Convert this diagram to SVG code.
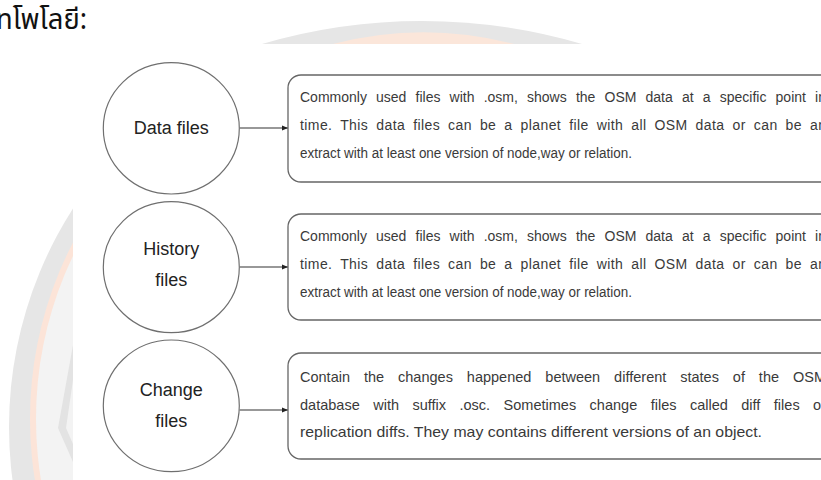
<svg xmlns="http://www.w3.org/2000/svg" width="821" height="480" viewBox="0 0 821 480">
  <defs>
    <marker id="arr" viewBox="0 0 6 6" refX="6" refY="3" markerWidth="6" markerHeight="6" markerUnits="userSpaceOnUse" orient="auto">
      <path d="M0,0.6 L6,3 L0,5.4 Z" fill="#222"/>
    </marker>
    <clipPath id="leftclip"><rect x="0" y="0" width="73" height="480"/></clipPath>
    <style>
      .circ { fill: #ffffff; stroke: #6f6f6f; stroke-width: 1.2; }
      .box { fill: #ffffff; stroke: #666666; stroke-width: 1.3; }
      .lbl { font-family: "Liberation Sans", Arial, sans-serif; font-size: 18px; fill: #222222; text-anchor: middle; }
      .desc { font-family: "Liberation Sans", Arial, sans-serif; font-size: 14px; fill: #3a3a3a; }
      .big { font-size: 14.5px; }
      .conn { stroke: #333333; stroke-width: 1.1; fill: none; marker-end: url(#arr); }
    </style>
  </defs>

  <rect x="0" y="0" width="821" height="480" fill="#ffffff"/>

  <!-- watermark -->
  <g id="watermark">
    <g clip-path="url(#leftclip)">
      <circle cx="414" cy="427" r="405" fill="#e6e6e6"/>
      <circle cx="414" cy="419" r="384" fill="#fce4d8"/>
      <circle cx="414" cy="419" r="378" fill="#f3f3f3"/>
      <polygon points="73,345 58,428 73,462 73,444 66,428 73,380" fill="#e3e3e3"/>
    </g>
    <path d="M262,44 A568,568 0 0 1 582,44 Z" fill="#e6e6e6"/>
    <path d="M333,44 A361,361 0 0 1 514,44 Z" fill="#fbe6da"/>
  </g>

  <text x="-4" y="29" font-family="'Noto Sans Thai', 'Noto Sans', 'DejaVu Sans', sans-serif" font-size="29" fill="#111111" textLength="91" lengthAdjust="spacingAndGlyphs">ทโพโลยี:</text>

  <!-- diagram backdrop -->
  <rect x="73" y="44" width="748" height="436" fill="#ffffff"/>

  <g id="connectors">
    <line class="conn" x1="239.5" y1="128" x2="288" y2="128"/>
    <line class="conn" x1="239.5" y1="267" x2="288" y2="267"/>
    <line class="conn" x1="239.5" y1="410" x2="288" y2="410"/>
  </g>

  <g id="data-files">
    <ellipse class="circ" cx="171.3" cy="128.3" rx="68" ry="65.7"/>
    <text class="lbl" x="171.3" y="134">Data files</text>
  </g>
  <g id="history-files">
    <ellipse class="circ" cx="171.3" cy="267.2" rx="68" ry="65.5"/>
    <text class="lbl" x="171.3" y="255">History</text>
    <text class="lbl" x="171.3" y="286">files</text>
  </g>
  <g id="change-files">
    <ellipse class="circ" cx="171.3" cy="405.8" rx="68" ry="65.8"/>
    <text class="lbl" x="171.3" y="396">Change</text>
    <text class="lbl" x="171.3" y="427">files</text>
  </g>

  <g id="data-desc">
    <rect class="box" x="288" y="75" width="560" height="107" rx="13" ry="13"/>
    <text class="desc" x="300" y="102" word-spacing="5.3" textLength="526" lengthAdjust="spacing">Commonly used files with .osm, shows the OSM data at a specific point in</text>
    <text class="desc" x="300" y="130" word-spacing="3.7" textLength="526" lengthAdjust="spacing">time. This data files can be a planet file with all OSM data or can be an</text>
    <text class="desc" x="300" y="158" textLength="332" lengthAdjust="spacingAndGlyphs">extract with at least one version of node,way or relation.</text>
  </g>
  <g id="history-desc">
    <rect class="box" x="288" y="214" width="560" height="106" rx="13" ry="13"/>
    <text class="desc" x="300" y="241" word-spacing="5.3" textLength="526" lengthAdjust="spacing">Commonly used files with .osm, shows the OSM data at a specific point in</text>
    <text class="desc" x="300" y="269" word-spacing="3.7" textLength="526" lengthAdjust="spacing">time. This data files can be a planet file with all OSM data or can be an</text>
    <text class="desc" x="300" y="297" textLength="332" lengthAdjust="spacingAndGlyphs">extract with at least one version of node,way or relation.</text>
  </g>
  <g id="change-desc">
    <rect class="box" x="288" y="353" width="560" height="106" rx="13" ry="13"/>
    <text class="desc big" x="300" y="382" word-spacing="9.9" textLength="526" lengthAdjust="spacing">Contain the changes happened between different states of the OSM</text>
    <text class="desc big" x="300" y="410" word-spacing="9.4" textLength="526" lengthAdjust="spacing">database with suffix .osc. Sometimes change files called diff files or</text>
    <text class="desc big" x="300" y="437" textLength="462" lengthAdjust="spacingAndGlyphs">replication diffs. They may contains different versions of an object.</text>
  </g>
</svg>
